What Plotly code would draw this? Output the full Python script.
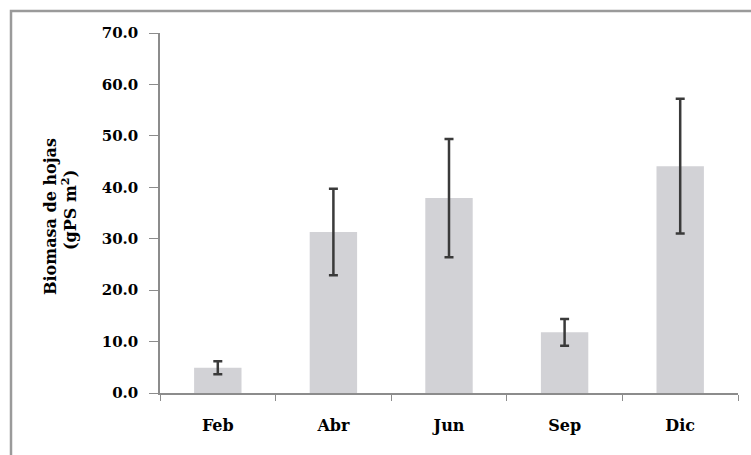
import plotly.graph_objects as go

months = ["Feb", "Abr", "Jun", "Sep", "Dic"]
biomass = [4.9, 31.3, 37.9, 11.8, 44.1]
errors = [1.25, 8.4, 11.5, 2.6, 13.1]
y_ticks = [0, 10, 20, 30, 40, 50, 60, 70]
title_lines = ["Biomasa de hojas", "(gPS m<sup>2</sup>)"]

FONT = "DejaVu Serif"
W, H = 751, 455
L, R, T, B = 160, 13, 33, 62
pw = W - L - R
ph = H - T - B

fig = go.Figure()
fig.add_trace(go.Bar(
    x=months, y=biomass,
    marker=dict(color="#d2d2d6", line=dict(width=0)),
    width=0.41,
    error_y=dict(type="data", array=errors, visible=True,
                 color="#3a3a3a", thickness=2.5, width=4.5),
))

annotations = []
for (px_x, px_y), txt in zip([(50, 217), (69, 210)], title_lines):
    annotations.append(dict(
        text=txt, xref="paper", yref="paper",
        x=(px_x - L) / pw, y=1 - (px_y - T) / ph,
        xanchor="center", yanchor="middle",
        textangle=-90, showarrow=False,
        font=dict(family=FONT, size=16, color="black", weight="bold"),
    ))

fig.update_layout(
    width=W, height=H,
    margin=dict(l=L, r=R, t=T, b=B),
    paper_bgcolor="white", plot_bgcolor="white",
    showlegend=False,
    font=dict(family=FONT, color="black"),
    xaxis=dict(
        showline=True, linecolor="#8c8c8c", linewidth=1.5,
        ticks="outside", tickson="boundaries", ticklen=6, tickcolor="#8c8c8c",
        tickfont=dict(family=FONT, size=16, color="black", weight="bold"),
        ticklabelstandoff=17,
        showgrid=False,
    ),
    yaxis=dict(
        range=[0, 70], tickvals=y_ticks,
        ticktext=[f"{v:.1f}" for v in y_ticks],
        showline=True, linecolor="#8c8c8c", linewidth=1.5,
        ticks="outside", ticklen=9, tickcolor="#8c8c8c",
        tickfont=dict(family=FONT, size=15, color="black", weight="bold"),
        ticklabelstandoff=8,
        showgrid=False, zeroline=False,
    ),
    annotations=annotations,
    shapes=[dict(type="rect", xref="paper", yref="paper",
                 x0=(11 - L) / pw, x1=1.2, y0=-0.3, y1=1 + (T - 11) / ph,
                 line=dict(color="#9a9a9a", width=2.5), layer="below")],
)

fig.write_html("out.html",
               config={"displayModeBar": False},
               post_script="document.body.style.margin='0';document.body.style.overflow='hidden';")
